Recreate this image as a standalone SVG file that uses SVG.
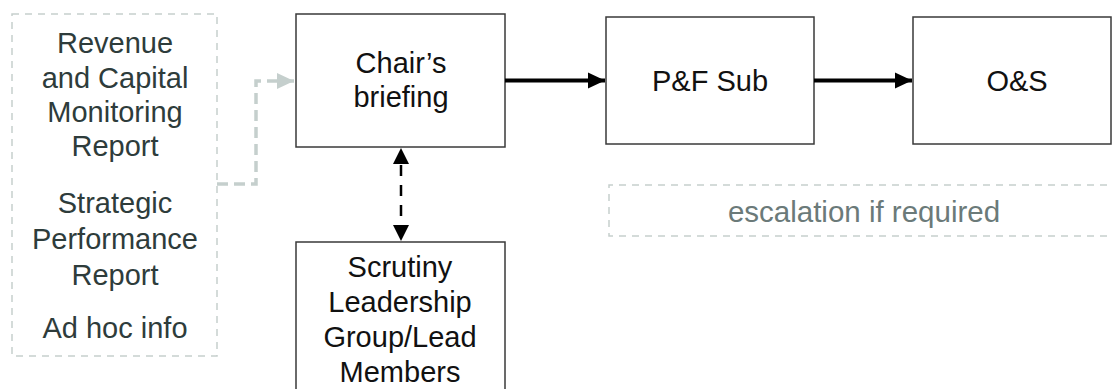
<svg xmlns="http://www.w3.org/2000/svg" width="1112" height="389" viewBox="0 0 1112 389">
<style>
.box{fill:#fff;stroke:#3a3a3a;stroke-width:1.5}
.t{font-family:"Liberation Sans",Arial,sans-serif;font-size:29px;text-anchor:middle;fill:#111}
.tg{font-family:"Liberation Sans",Arial,sans-serif;font-size:29px;text-anchor:middle;fill:#2e3c3b}
.te{font-family:"Liberation Sans",Arial,sans-serif;font-size:29.5px;text-anchor:middle;fill:#6b7a79}
.dbox{fill:none;stroke:#c6cfcd;stroke-width:1.5;stroke-dasharray:7 6}
.solid{fill:none;stroke:#000;stroke-width:4}
.vdash{fill:none;stroke:#000;stroke-width:2.5;stroke-dasharray:11 9}
.gdash{fill:none;stroke:#c5cfcd;stroke-width:3.5;stroke-dasharray:11 6}
</style>
<defs>
<marker id="ab" markerUnits="userSpaceOnUse" markerWidth="18" markerHeight="18" viewBox="0 0 18 18" refX="17" refY="9" orient="auto">
<path d="M0,1 L17,9 L0,17 Z" fill="#000"/>
</marker>
<marker id="ag" markerUnits="userSpaceOnUse" markerWidth="18" markerHeight="18" viewBox="0 0 18 18" refX="17" refY="9" orient="auto">
<path d="M0,1 L17,9 L0,17 Z" fill="#c5cfcd"/>
</marker>
</defs>
<g id="inputs">
<rect class="dbox" x="12" y="14" width="205" height="342"/>
<text class="tg" x="115" y="53">Revenue</text>
<text class="tg" x="115" y="88">and Capital</text>
<text class="tg" x="115" y="122">Monitoring</text>
<text class="tg" x="115" y="156">Report</text>
<text class="tg" x="115" y="213">Strategic</text>
<text class="tg" x="115" y="249">Performance</text>
<text class="tg" x="115" y="285">Report</text>
<text class="tg" x="115" y="338">Ad hoc info</text>
</g>
<g id="chairs-briefing">
<rect class="box" x="296" y="14" width="209" height="133"/>
<text class="t" x="401" y="73">Chair’s</text>
<text class="t" x="401" y="107">briefing</text>
</g>
<g id="pf-sub">
<rect class="box" x="606" y="17" width="208" height="127"/>
<text class="t" x="710" y="91">P&amp;F Sub</text>
</g>
<g id="os">
<rect class="box" x="913" y="17" width="198" height="127"/>
<text class="t" x="1017" y="91">O&amp;S</text>
</g>
<g id="escalation">
<path class="dbox" d="M1120,185 H609 V236 H1120"/>
<text class="te" x="864" y="222">escalation if required</text>
</g>
<g id="scrutiny">
<rect class="box" x="296" y="242" width="209" height="160"/>
<text class="t" x="400" y="277">Scrutiny</text>
<text class="t" x="400" y="312">Leadership</text>
<text class="t" x="400" y="347">Group/Lead</text>
<text class="t" x="400" y="382">Members</text>
</g>
<g id="connectors">
<path class="gdash" d="M217,184 H256 V81 H294" marker-end="url(#ag)"/>
<path class="solid" d="M505,80.5 H605" marker-end="url(#ab)"/>
<path class="solid" d="M814,80.5 H912" marker-end="url(#ab)"/>
<path class="vdash" d="M401,165 V224"/>
<path d="M393,164 L401,148 L409,164 Z" fill="#000"/>
<path d="M393,225 L401,241 L409,225 Z" fill="#000"/>
</g>
</svg>
